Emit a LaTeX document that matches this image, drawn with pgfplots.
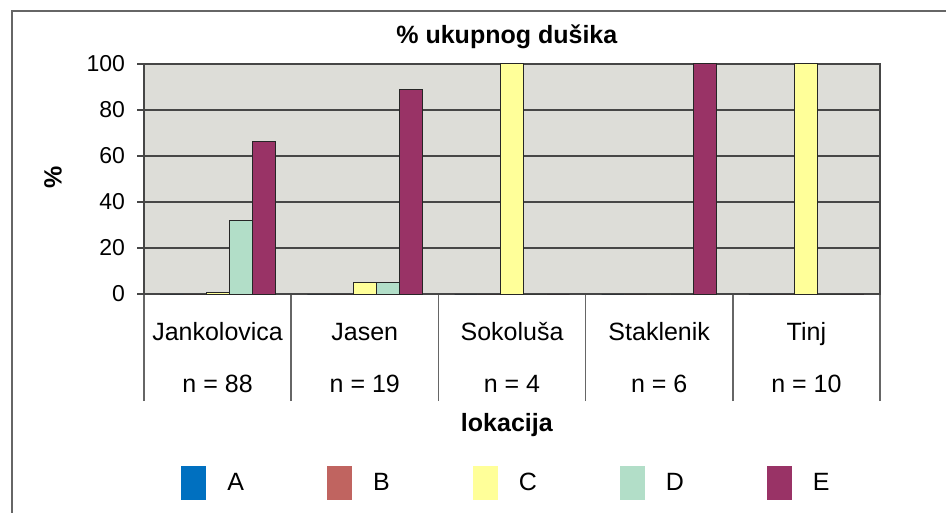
\documentclass[border=0pt]{standalone}
\usepackage{fontspec}
\setmainfont{Liberation Sans}
\usepackage{pgfplots}
\pgfplotsset{compat=1.18}
\definecolor{cA}{RGB}{0,112,192}
\definecolor{cB}{RGB}{192,100,96}
\definecolor{cC}{RGB}{255,255,153}
\definecolor{cD}{RGB}{178,222,200}
\definecolor{cE}{RGB}{153,51,102}
\definecolor{bg}{RGB}{221,221,216}
\definecolor{gridc}{RGB}{70,70,70}
\begin{document}
\begin{tikzpicture}[font=\fontsize{11.5}{13.8}\selectfont]
\path[use as bounding box] (-72pt,-109.5pt) rectangle (401pt,147pt);
\draw[line width=1pt, draw=black!60] (410pt,141.5pt) -- (-66pt,141.5pt) -- (-66pt,-120pt);
\begin{axis}[at={(0,0)}, anchor=south west, scale only axis,
  width=368pt, height=115pt,
  xmin=-0.5, xmax=4.5, ymin=0, ymax=100,
  axis background/.style={fill=bg},
  ybar=0pt, bar width=11.5pt,
  every axis plot post/.append style={legend image code/.code={\path[#1,draw=none] (0pt,-8.5pt) rectangle (12.5pt,8.5pt);}},
  xtick={-0.5,0.5,1.5,2.5,3.5,4.5},
  x tick label as interval,
  xticklabels={{Jankolovica\strut\\[11pt]n = 88\strut},{Jasen\strut\\[11pt]n = 19\strut},{Sokolu\v{s}a\strut\\[11pt]n = 4\strut},{Staklenik\strut\\[11pt]n = 6\strut},{Tinj\strut\\[11pt]n = 10\strut}},
  xticklabel style={align=center, yshift=-5.5pt, font=\fontsize{12.5}{15}\selectfont},
  yticklabel style={xshift=-2.5pt},
  ytick={0,20,40,60,80,100},
  tick align=outside, xtick pos=bottom, ytick pos=left,
  major tick length=3.5pt,
  xtick style={/pgfplots/major tick length=53.5pt, draw=black!60, line width=0.8pt},
  ytick style={draw=gridc, line width=0.7pt},
  ymajorgrids, grid style={gridc, line width=0.7pt},
  axis line style={gridc, line width=0.7pt},
  /pgf/number format/assume math mode=true,
  every axis title shift=0pt,
  title={\bfseries \% ukupnog du\v{s}ika},
  title style={at={(axis description cs:0.493,1.117)}, anchor=center, font=\fontsize{12.5}{15}\selectfont},
  xlabel={\bfseries lokacija},
  xlabel style={at={(axis description cs:0.493,-0.5696)}, anchor=center, font=\fontsize{12.5}{15}\selectfont},
  ylabel={\bfseries \%},
  ylabel style={at={(axis description cs:-0.1236,0.5087)}, anchor=center, rotate=0, font=\fontsize{12.5}{15}\selectfont},
  legend columns=5,
  legend style={draw=none, fill=none, inner sep=0pt, anchor=west, at={(0.0503,-0.8217)},
    font=\fontsize{12.5}{15}\selectfont,
    /tikz/every odd column/.append style={column sep=8.5pt},
    /tikz/every even column/.append style={column sep=39.5pt}},
]
\addplot[fill=cA, draw=black!85, line width=0.5pt] coordinates {(0,0) (1,0) (2,0) (3,0) (4,0)};
\addplot[fill=cB, draw=black!85, line width=0.5pt] coordinates {(0,0) (1,0) (2,0) (3,0) (4,0)};
\addplot[fill=cC, draw=black!85, line width=0.5pt] coordinates {(0,0.6) (1,5) (2,100) (3,0) (4,100)};
\addplot[fill=cD, draw=black!85, line width=0.5pt] coordinates {(0,32) (1,5) (2,0) (3,0) (4,0)};
\addplot[fill=cE, draw=black!85, line width=0.5pt] coordinates {(0,66.5) (1,89) (2,0) (3,100) (4,0)};
\legend{A,B,C,D,E}
\end{axis}
\end{tikzpicture}
\end{document}
